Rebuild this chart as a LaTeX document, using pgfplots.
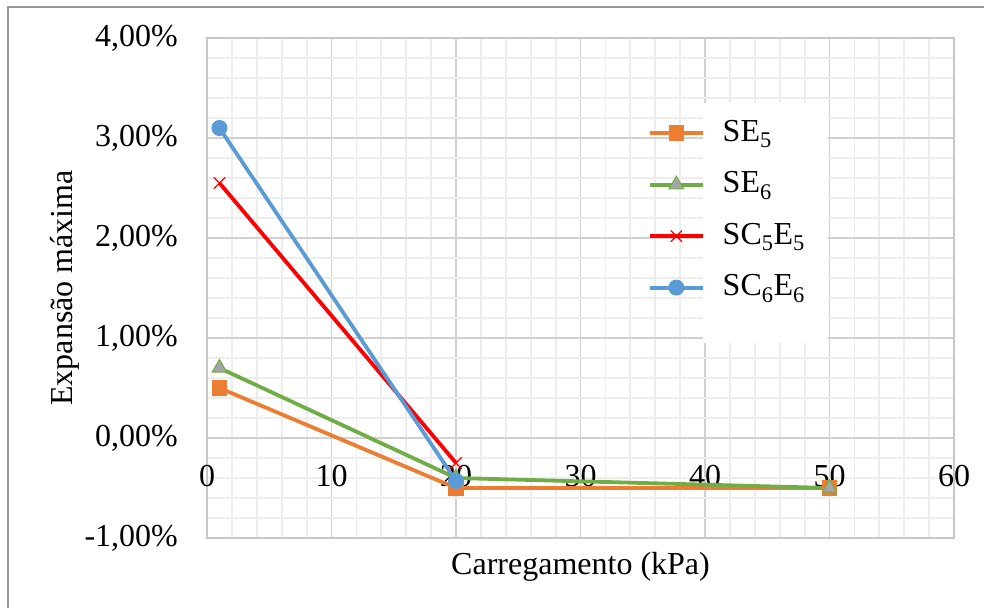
\documentclass[border=0pt]{standalone}
\usepackage{fontspec}
\setmainfont{Liberation Serif}
\usepackage{pgfplots}
\pgfplotsset{compat=1.18}
\definecolor{cOrange}{HTML}{ED7D31}
\definecolor{cGreen}{HTML}{70AD47}
\definecolor{cGray}{HTML}{A5A5A5}
\definecolor{cRed}{HTML}{FF0000}
\definecolor{cBlue}{HTML}{5B9BD5}
\pgfplotsset{layers/mylayers/.define layer set={axis background,axis grid,axis ticks,axis lines,pre main,main,axis tick labels,axis descriptions,axis foreground}{}}
\begin{document}
\fontsize{32bp}{38bp}\selectfont
\begin{tikzpicture}
\begin{axis}[
  set layers=mylayers,
  at={(207bp,70bp)}, anchor=south west,
  scale only axis, width=747bp, height=500bp,
  xmin=0, xmax=60, ymin=-1, ymax=4,
  xtick={0,10,...,60}, ytick={-1,0,...,4},
  yticklabels={{-1,00\%},{0,00\%},{1,00\%},{2,00\%},{3,00\%},{4,00\%}},
  /pgf/number format/assume math mode=true,
  minor x tick num=4, minor y tick num=4,
  grid=both,
  major grid style={draw=black!18, line width=1.8bp},
  minor grid style={draw=black!7, line width=1.8bp},
  axis line style={draw=black!22, line width=1.8bp},
  major tick length=0pt, minor tick length=0pt,
  tick style={draw=none},
  xticklabel style={yshift=83.7bp},
  yticklabel style={xshift=-18.3bp},
  xlabel={Carregamento (kPa)},
  ylabel={Expansão máxima},
  xlabel style={at={(axis description cs:0.5,0)}, anchor=base, yshift=-36bp},
  ylabel style={at={(axis description cs:-0.1807,0.5)}, anchor=base},
  legend cell align=left,
  legend style={at={(axis description cs:0.590,0.84)}, anchor=north west, draw=none, fill=none,
    inner sep=0pt, row sep=21.5bp, column sep=16bp,
    font=\fontsize{32bp}{38bp}\selectfont},
  legend image code/.code={\draw[mark repeat=2,mark phase=2,#1] plot coordinates {(0bp,0bp) (26.5bp,0bp) (53bp,0bp)};},
]
\addplot[color=cOrange, line width=3.8bp, mark=square*, mark size=7.3bp, mark options={solid, fill=cOrange, draw=cOrange, line width=1bp}]
  coordinates {(1,0.50) (20,-0.50) (50,-0.50)};
\addlegendentry{SE\textsubscript{5}}
\addplot[color=cGreen, line width=3.8bp, mark=triangle*, mark size=8.5bp, mark options={solid, fill=cGray, draw=cGreen, line width=1bp}]
  coordinates {(1,0.70) (20,-0.40) (50,-0.50)};
\addlegendentry{SE\textsubscript{6}}
\addplot[color=cRed, line width=3.8bp, mark=x, mark size=8bp, mark options={solid, draw=cRed, line width=1.2bp}]
  coordinates {(1,2.55) (20,-0.25)};
\addlegendentry{SC\textsubscript{5}E\textsubscript{5}}
\addplot[color=cBlue, line width=3.8bp, mark=*, mark size=7.5bp, mark options={solid, fill=cBlue, draw=cBlue, line width=1bp}]
  coordinates {(1,3.10) (20,-0.43)};
\addlegendentry{SC\textsubscript{6}E\textsubscript{6}}
\fill[white] (axis cs:39.85,0.95) rectangle (axis cs:49.9,3.35);
\end{axis}
\draw[color=black!40, line width=1.5bp] (8bp,-20bp) -- (8bp,601bp) -- (1010bp,601bp);
\pgfresetboundingbox
\useasboundingbox (0,0) rectangle (984bp,608bp);
\end{tikzpicture}
\end{document}
